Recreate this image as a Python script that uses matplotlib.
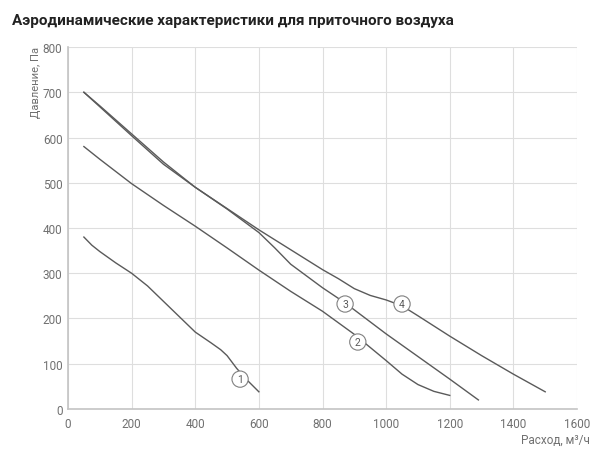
import matplotlib
matplotlib.use("Agg")
from matplotlib import pyplot as plt

matplotlib.rcParams['font.family'] = ['Roboto', 'DejaVu Sans']

# curve data: flow [m3/h], pressure [Pa]
q1 = [50, 75, 100, 150, 200, 250, 300, 350, 400, 450, 480, 500, 530, 560, 600]
p1 = [380, 362, 348, 323, 300, 272, 238, 204, 170, 146, 131, 118, 90, 66, 38]

q2 = [50, 100, 200, 300, 400, 500, 600, 700, 800, 900, 1000, 1050, 1100, 1150, 1200]
p2 = [580, 552, 498, 450, 404, 356, 307, 260, 216, 165, 107, 77, 54, 39, 30]

q3 = [50, 100, 200, 300, 400, 500, 550, 600, 650, 700, 800, 870, 1000, 1100, 1200, 1290]
p3 = [700, 668, 604, 541, 490, 442, 416, 390, 356, 320, 268, 235, 166, 116, 66, 20]

q4 = [50, 100, 200, 300, 400, 500, 600, 700, 800, 850, 900, 950, 1000, 1050, 1100, 1200, 1300, 1400, 1500]
p4 = [700, 670, 608, 546, 490, 443, 396, 352, 308, 288, 266, 251, 241, 228, 206, 161, 118, 77, 38]

curves = [(q1, p1), (q2, p2), (q3, p3), (q4, p4)]
label_names = ['1', '2', '3', '4']
label_q = [541, 911, 871, 1050]
label_p = [66, 148, 232, 232]

xticks = [0, 200, 400, 600, 800, 1000, 1200, 1400, 1600]
yticks = [0, 100, 200, 300, 400, 500, 600, 700, 800]

line_col = '#5a5a5a'
grid_col = '#dedede'
text_col = '#707070'

fig = plt.figure(figsize=(6, 4.56), dpi=100)
ax = fig.add_axes([0.1133, 0.1009, 0.8484, 0.7938])

for q, p in curves:
    ax.plot(q, p, color=line_col, lw=1.0, zorder=3)

for name, x, y in zip(label_names, label_q, label_p):
    ax.text(x, y, name, ha='center', va='center', fontsize=7.5, color=line_col, zorder=5,
            bbox=dict(boxstyle='circle,pad=0.3', fc='white', ec='#808080', lw=0.8))

ax.set_xlim(0, 1600)
ax.set_ylim(0, 800)
ax.set_xticks(xticks)
ax.set_yticks(yticks)
ax.grid(True, color=grid_col, lw=0.8)
ax.set_axisbelow(True)
for s in ['top', 'right']:
    ax.spines[s].set_visible(False)
for s in ['left', 'bottom']:
    ax.spines[s].set_color('#c4c4c4')
    ax.spines[s].set_linewidth(1.2)
ax.tick_params(axis='y', length=0, labelsize=8.5, labelcolor=text_col, pad=4)
ax.tick_params(axis='x', length=0, labelsize=8.5, labelcolor=text_col, pad=6)

# axis titles sit at the ends of the axes
fig.text(36 / 600, 1 - 47 / 456, 'Давление, Па', rotation=90, fontsize=8,
         color=text_col, ha='center', va='top')
fig.text(590 / 600, 1 - 440 / 456, 'Расход, м³/ч', fontsize=8.5,
         color=text_col, ha='right', va='center')

fig.text(0.02, 0.955, 'Аэродинамические характеристики для приточного воздуха',
         fontsize=11, fontweight='bold', color='#222222', va='center', ha='left')

fig.savefig('out.png', dpi=100)
